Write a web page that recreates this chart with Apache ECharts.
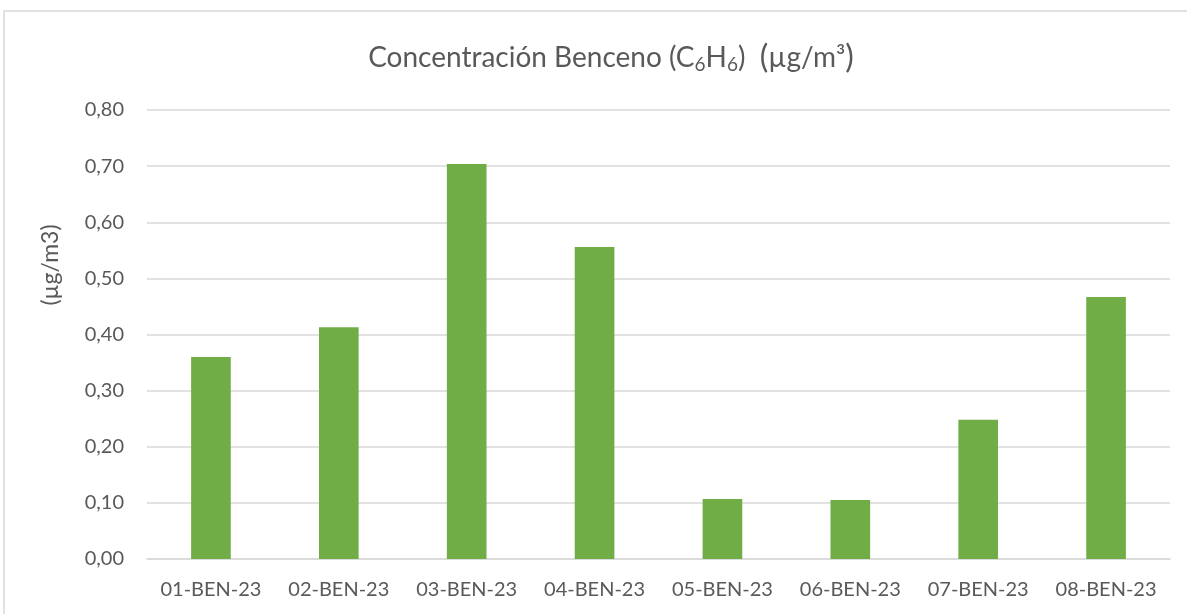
<!DOCTYPE html>
<html><head><meta charset="utf-8">
<script src="https://cdn.jsdelivr.net/npm/echarts@6/dist/echarts.min.js"></script>
<style>html,body{margin:0;padding:0;background:#fff}#c{width:1187px;height:614px}</style>
</head><body><div id="c"></div>
<script>
const categories = ['01-BEN-23','02-BEN-23','03-BEN-23','04-BEN-23','05-BEN-23','06-BEN-23','07-BEN-23','08-BEN-23'];
const values = [0.360, 0.413, 0.704, 0.556, 0.107, 0.105, 0.248, 0.467];
const yTicks = {min: 0, max: 0.8, interval: 0.1};
const yAxisTitle = '(µg/m3)';

const chart = echarts.init(document.getElementById('c'));
const font = 'Lato, "Open Sans", sans-serif';
chart.setOption({
  animation: false,
  title: {
    text: '{a|Concentración Benceno (C}{s|6}{a|H}{s|6}{a|)  }{p|(}{a|µg/m³}{p|)}',
    left: 606, top: 36, textAlign: 'center',
    textStyle: {
      fontWeight: 'normal',
      rich: {
        a: {fontFamily: font, fontSize: 28, fontWeight: 'normal', color: '#595959'},
        s: {fontFamily: font, fontSize: 19, fontWeight: 'normal', color: '#595959', verticalAlign: 'bottom', padding: [14,0,0,0]},
        p: {fontFamily: font, fontSize: 32, fontWeight: 'normal', color: '#595959'}
      }
    }
  },
  graphic: [
    {type: 'rect', shape: {x: 4, y: 11, width: 1200, height: 700}, style: {fill: 'none', stroke: '#d9d9d9', lineWidth: 1.5}, silent: true},
    {type: 'text', x: 51, y: 265, rotation: Math.PI/2, style: {text: yAxisTitle, fill: '#595959', font: '23px ' + font, align: 'center', verticalAlign: 'middle'}}
  ],
  grid: {left: 147, right: 17, top: 110, bottom: 55},
  xAxis: {
    type: 'category', data: categories,
    axisTick: {show: false},
    axisLine: {lineStyle: {color: '#d9d9d9', width: 1.5}},
    axisLabel: {color: '#595959', fontFamily: font, fontSize: 20, margin: 21, interval: 0, hideOverlap: false}
  },
  yAxis: {
    type: 'value', min: yTicks.min, max: yTicks.max, interval: yTicks.interval,
    axisLine: {show: false}, axisTick: {show: false},
    splitLine: {lineStyle: {color: '#d9d9d9', width: 1.5}},
    axisLabel: {color: '#595959', fontFamily: font, fontSize: 20, margin: 23,
      formatter: v => v.toFixed(2).replace('.', ',')}
  },
  series: [{
    type: 'bar', data: values, barWidth: '31%',
    itemStyle: {color: '#70ad47'}
  }]
});
</script></body></html>
